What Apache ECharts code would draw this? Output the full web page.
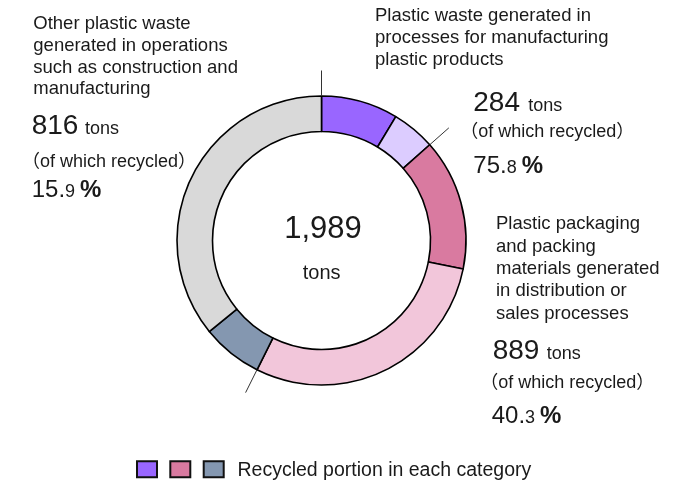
<!DOCTYPE html>
<html>
<head>
<meta charset="utf-8">
<script src="https://cdn.jsdelivr.net/npm/echarts@6/dist/echarts.min.js"></script>
<style>
html,body{margin:0;padding:0;background:#fff;}
#main{width:687px;height:484px;}
</style>
</head>
<body>
<div id="main"></div>
<script>
// ---- data (slice sizes estimated from the ring as drawn, in tons) ----
const sliceNames = [
  'Plastic products: recycled', 'Plastic products: not recycled',
  'Packaging: recycled', 'Packaging: not recycled',
  'Other: recycled', 'Other: not recycled'
];
const sliceValues = [171, 97, 292, 581, 135, 713];
const sliceColors = ['#9966FF', '#DCCCFF', '#D97AA0', '#F2C6DA', '#8497B0', '#D9D9D9'];
const slicesPerCategory = 2;

const categoryTitles = [
  ['Plastic waste generated in', 'processes for manufacturing', 'plastic products'],
  ['Plastic packaging', 'and packing', 'materials generated', 'in distribution or', 'sales processes'],
  ['Other plastic waste', 'generated in operations', 'such as construction and', 'manufacturing']
];
const categoryTotals = ['284', '889', '816'];
const recycledRates = ['75.8', '40.3', '15.9'];
const grandTotal = '1,989';
const unitLabel = 'tons';
const recycledLabel = '（of which recycled）';
const legendColors = ['#9966FF', '#D97AA0', '#8497B0'];
const legendLabel = 'Recycled portion in each category';

// ---- layout ----
const CX = 321.5, CY = 240.5, R_IN = 109, R_OUT = 144.5, R_LINE = 170;
const FONT = '"Liberation Sans", Arial, "Noto Sans CJK JP", sans-serif';
const INK = '#1a1a1a';

const mctx = document.createElement('canvas').getContext('2d');
function fontStr(fs, bold) { return (bold ? 'bold ' : 'normal ') + fs + 'px ' + FONT; }
function baselineOffset(fs, bold) {
  mctx.font = fontStr(fs, bold);
  mctx.textBaseline = 'alphabetic';
  const a = mctx.measureText('H').actualBoundingBoxAscent;
  mctx.textBaseline = 'middle';
  const b = mctx.measureText('H').actualBoundingBoxAscent;
  return a - b;
}
function textWidth(t, fs, bold) {
  mctx.font = fontStr(fs, bold);
  mctx.textBaseline = 'alphabetic';
  return mctx.measureText(t).width;
}

const graphics = [];
function addText(x, baseline, parts, align) {
  const widths = parts.map(p => textWidth(p.text, p.fs, p.bold));
  const W = widths.reduce((a, b) => a + b, 0);
  let x0 = align === 'center' ? x - W / 2 : x;
  parts.forEach((p, i) => {
    graphics.push({
      type: 'text', x: x0, y: baseline - baselineOffset(p.fs, p.bold), silent: true,
      style: {
        text: p.text, fontSize: p.fs, fontFamily: FONT, fontWeight: p.bold ? 'bold' : 'normal',
        fill: INK, align: 'left', verticalAlign: 'middle'
      }
    });
    x0 += widths[i];
  });
}

const blocks = [
  {tx: 375, tb: [20.7, 42.7, 64.7], nx: 473.3, nb: 111, ux: 528.3, rx: 460.3, rb: 137, px: 473.3, pb: 173.3},
  {tx: 496, tb: [229.3, 251.6, 273.9, 296.2, 318.5], nx: 492.7, nb: 359.3, ux: 546.7, rx: 480.3, rb: 388.3, px: 491.7, pb: 423.3},
  {tx: 33.3, tb: [29.3, 51, 72.7, 94.4], nx: 31.7, nb: 134, ux: 85, rx: 22, rb: 166.7, px: 31.7, pb: 197.3}
];
blocks.forEach((b, i) => {
  categoryTitles[i].forEach((line, k) => {
    addText(b.tx, b.tb[k], [{text: line, fs: 18.5}]);
  });
  addText(b.nx, b.nb, [{text: categoryTotals[i], fs: 28}]);
  addText(b.ux, b.nb, [{text: unitLabel, fs: 18}]);
  addText(b.rx, b.rb, [{text: recycledLabel, fs: 18}]);
  const parts = recycledRates[i].split('.');
  addText(b.px, b.pb, [
    {text: parts[0] + '.', fs: 24},
    {text: parts[1] + ' ', fs: 18},
    {text: '%', fs: 24, bold: true}
  ]);
});

// center total
addText(323, 238.3, [{text: grandTotal, fs: 31}], 'center');
addText(321.7, 279.3, [{text: unitLabel, fs: 20}], 'center');

// divider lines at category boundaries
const total = sliceValues.reduce((a, b) => a + b, 0);
let cum = 0;
for (let i = 0; i < sliceValues.length; i++) {
  if (i % slicesPerCategory === 0) {
    const th = cum / total * Math.PI * 2;
    const s = Math.sin(th), c = Math.cos(th);
    graphics.push({
      type: 'line', silent: true, z: 100,
      shape: {x1: CX + R_OUT * s, y1: CY - R_OUT * c, x2: CX + R_LINE * s, y2: CY - R_LINE * c},
      style: {stroke: '#333', lineWidth: 1}
    });
  }
  cum += sliceValues[i];
}

// legend
const legX = [137, 170.3, 203.7];
legendColors.forEach((col, i) => {
  graphics.push({
    type: 'rect', silent: true,
    shape: {x: legX[i], y: 461.3, width: 20, height: 16},
    style: {fill: col, stroke: '#111', lineWidth: 2}
  });
});
addText(237.5, 476, [{text: legendLabel, fs: 19.5}]);

const chart = echarts.init(document.getElementById('main'), null, {renderer: 'canvas'});
chart.setOption({
  animation: false,
  backgroundColor: '#ffffff',
  series: [{
    type: 'pie',
    center: [CX, CY],
    radius: [R_IN, R_OUT],
    startAngle: 90,
    clockwise: true,
    silent: true,
    label: {show: false},
    labelLine: {show: false},
    emphasis: {disabled: true},
    itemStyle: {borderColor: '#000', borderWidth: 1.6},
    data: sliceValues.map((v, i) => ({name: sliceNames[i], value: v, itemStyle: {color: sliceColors[i]}}))
  }],
  graphic: graphics
});
</script>
</body>
</html>
